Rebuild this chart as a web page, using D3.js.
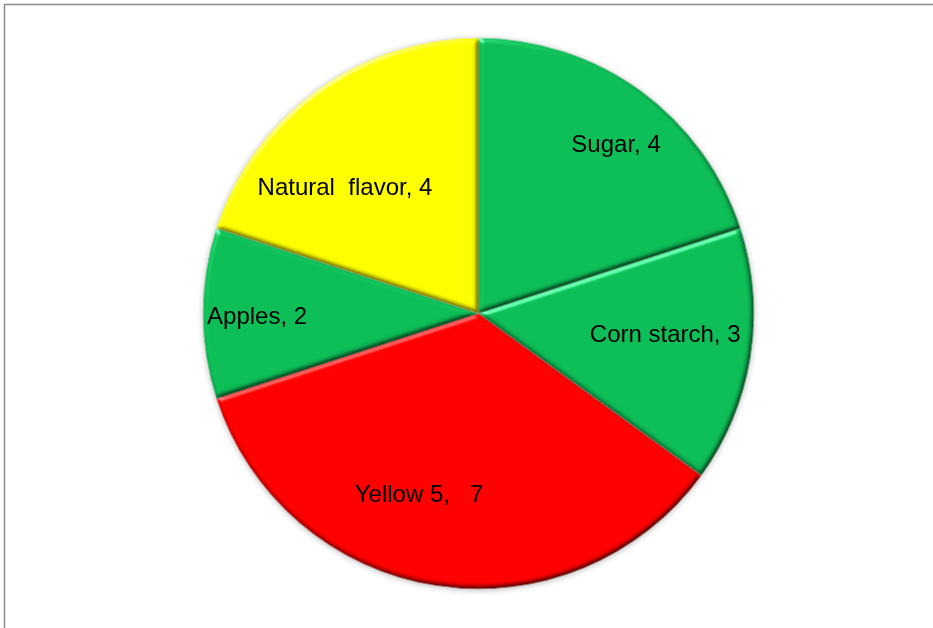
<!DOCTYPE html>
<html>
<head>
<meta charset="utf-8">
<script src="https://cdn.jsdelivr.net/npm/d3@7"></script>
<style>
  body { margin: 0; background: #fff; }
  svg text { font-family: "Liberation Sans", Arial, sans-serif; white-space: pre; }
</style>
</head>
<body>
<script>
// pie data, clockwise from 12 o'clock
const ingredients = ["Sugar", "Corn starch", "Yellow 5", "Apples", "Natural  flavor"];
const amounts = [4, 3, 7, 2, 4];
const labelText = ["Sugar, 4", "Corn starch, 3", "Yellow 5,   7", "Apples, 2", "Natural  flavor, 4"];
const sliceColors = ["#0dbd56", "#0dbd56", "#ff0000", "#0dbd56", "#ffff00"];
// nudges from the default label spot (excel "best fit" placement)
const labelShift = [[8, 8], [-31, -14], [-25, -38], [-1, 2], [-4, 51]];

const width = 933, height = 628;
const cx = 478.5, cy = 313.5, radius = 275.5;

const svg = d3.select("body").append("svg")
    .attr("width", width)
    .attr("height", height);

// outer frame
svg.append("rect")
    .attr("x", 4.5).attr("y", 4.5)
    .attr("width", width + 10).attr("height", height + 10)
    .attr("fill", "#fff")
    .attr("stroke", "#8c8c8c")
    .attr("stroke-width", 1.5);

const defs = svg.append("defs");

// soft shadow around the pie
const shadow = defs.append("filter").attr("id", "shadow")
    .attr("color-interpolation-filters", "sRGB")
    .attr("x", "-10%").attr("y", "-10%").attr("width", "120%").attr("height", "120%");
shadow.append("feGaussianBlur").attr("in", "SourceAlpha").attr("stdDeviation", 3);
shadow.append("feOffset").attr("dx", 0).attr("dy", 1).attr("result", "off");
shadow.append("feComponentTransfer").call(t => t.append("feFuncA").attr("type", "linear").attr("slope", 0.3));
shadow.append("feMerge").call(m => {
    m.append("feMergeNode");
    m.append("feMergeNode").attr("in", "SourceGraphic");
});

// bevel on every slice: darken edges facing away, highlight edges facing the light
const bevel = defs.append("filter").attr("id", "bevel")
    .attr("color-interpolation-filters", "sRGB")
    .attr("x", "-5%").attr("y", "-5%").attr("width", "110%").attr("height", "110%");
bevel.append("feGaussianBlur").attr("in", "SourceAlpha").attr("stdDeviation", 2.5).attr("result", "blur");
bevel.append("feDiffuseLighting")
    .attr("in", "blur").attr("surfaceScale", 3).attr("diffuseConstant", 1 / Math.sin(Math.PI / 3))
    .attr("lighting-color", "#ffffff").attr("result", "diff")
    .append("feDistantLight").attr("azimuth", 235).attr("elevation", 60);
bevel.append("feComposite").attr("in", "SourceGraphic").attr("in2", "diff")
    .attr("operator", "arithmetic").attr("k1", 1).attr("k2", 0).attr("k3", 0).attr("k4", 0)
    .attr("result", "shaded");
bevel.append("feSpecularLighting")
    .attr("in", "blur").attr("surfaceScale", 3).attr("specularConstant", 0.6)
    .attr("specularExponent", 30).attr("lighting-color", "#ffffff").attr("result", "spec")
    .append("feDistantLight").attr("azimuth", 235).attr("elevation", 25);
bevel.append("feComposite").attr("in", "spec").attr("in2", "SourceAlpha").attr("operator", "in").attr("result", "specIn");
bevel.append("feComposite").attr("in", "shaded").attr("in2", "specIn")
    .attr("operator", "arithmetic").attr("k1", 0).attr("k2", 1).attr("k3", 1).attr("k4", 0)
    .attr("result", "lit");
bevel.append("feComposite").attr("in", "lit").attr("in2", "SourceAlpha").attr("operator", "in");

const pie = d3.pie().sort(null).value(d => d)(amounts);
const arc = d3.arc().innerRadius(0).outerRadius(radius);
const labelArc = d3.arc().innerRadius(radius * 0.8).outerRadius(radius * 0.8);

const g = svg.append("g")
    .attr("transform", `translate(${cx},${cy})`)
    .attr("filter", "url(#shadow)");

g.selectAll("path.slice")
    .data(pie)
    .enter()
    .append("path")
    .attr("class", "slice")
    .attr("d", arc)
    .attr("fill", (d, i) => sliceColors[i])
    .attr("filter", "url(#bevel)");

svg.append("g")
    .attr("transform", `translate(${cx},${cy})`)
    .selectAll("text")
    .data(pie)
    .enter()
    .append("text")
    .attr("x", (d, i) => labelArc.centroid(d)[0] + labelShift[i][0])
    .attr("y", (d, i) => labelArc.centroid(d)[1] + labelShift[i][1])
    .attr("text-anchor", "middle")
    .attr("dominant-baseline", "central")
    .attr("font-size", 24)
    .attr("fill", "#000")
    .text((d, i) => labelText[i]);
</script>
</body>
</html>
